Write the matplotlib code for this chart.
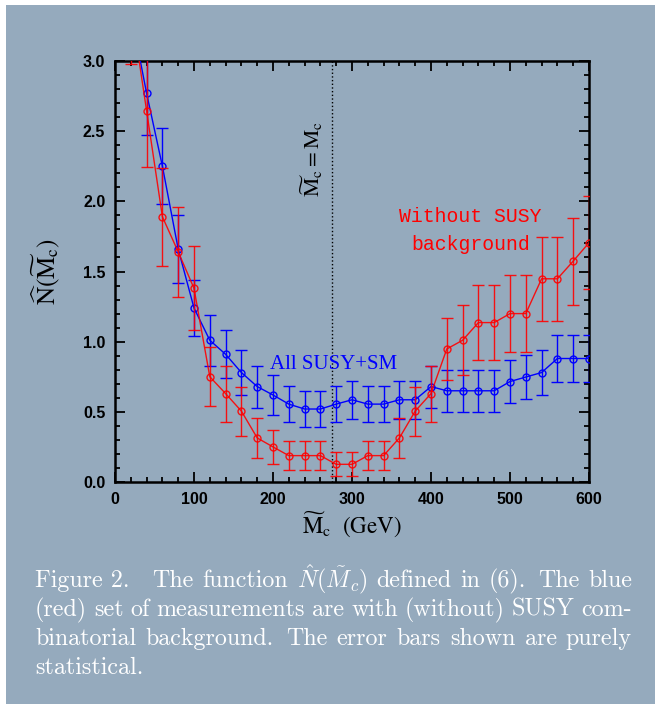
import numpy as np
import matplotlib
matplotlib.use("Agg")
import matplotlib.pyplot as plt
from matplotlib.patches import Rectangle
from matplotlib.ticker import MultipleLocator

BG = "#95aabd"

# M~c values (GeV), one point every 20 GeV
mass = [20, 40, 60, 80, 100, 120, 140, 160, 180, 200,
        220, 240, 260, 280, 300, 320, 340, 360, 380, 400,
        420, 440, 460, 480, 500, 520, 540, 560, 580, 600]

# All SUSY+SM (blue)
blue_n = [3.35, 2.77, 2.25, 1.66, 1.24, 1.01, 0.91, 0.78, 0.68, 0.62,
          0.555, 0.52, 0.52, 0.555, 0.586, 0.555, 0.555, 0.586, 0.586, 0.68,
          0.65, 0.65, 0.65, 0.65, 0.716, 0.748, 0.78, 0.88, 0.88, 0.88]
blue_err = [0.33, 0.30, 0.27, 0.24, 0.20, 0.18, 0.17, 0.16, 0.15, 0.14,
            0.13, 0.13, 0.13, 0.13, 0.137, 0.13, 0.13, 0.137, 0.137, 0.15,
            0.148, 0.148, 0.148, 0.148, 0.155, 0.155, 0.16, 0.17, 0.17, 0.17]

# Without SUSY background (red)
red_n = [3.40, 2.645, 1.89, 1.64, 1.38, 0.75, 0.63, 0.505, 0.314, 0.25,
         0.188, 0.188, 0.188, 0.126, 0.126, 0.188, 0.188, 0.314, 0.505, 0.63,
         0.948, 1.01, 1.136, 1.136, 1.20, 1.20, 1.448, 1.448, 1.574, 1.705]
red_err = [0.42, 0.40, 0.35, 0.32, 0.30, 0.21, 0.20, 0.175, 0.14, 0.12,
           0.105, 0.105, 0.105, 0.085, 0.085, 0.105, 0.105, 0.14, 0.175, 0.20,
           0.22, 0.25, 0.27, 0.27, 0.275, 0.275, 0.30, 0.30, 0.31, 0.33]

true_mass = 275

caption = [
    ["Figure 2.", "The", "function", r"$\hat{N}(\tilde{M}_c)$", "defined", "in",
     "(6).", "The", "blue"],
    ["(red)", "set", "of", "measurements", "are", "with", "(without)", "SUSY", "com-"],
    ["binatorial", "background.", "The", "error", "bars", "shown", "are", "purely"],
    ["statistical."],
]


def justify(fig, renderer, words, x0, x1, y, last=False, **kw):
    fig_w = fig.bbox.width
    texts = [fig.text(x0, y, w, **kw) for w in words]
    widths = [t.get_window_extent(renderer).width for t in texts]
    if last or len(words) == 1:
        weights = [1.0] * (len(words) - 1)
        gap = 7.0
    else:
        weights = []
        for w in words[:-1]:
            if w == "Figure 2.":
                weights.append(2.6)
            elif w.endswith("."):
                weights.append(1.35)
            else:
                weights.append(1.0)
        gap = ((x1 - x0) * fig_w - sum(widths)) / sum(weights)
    x = x0 * fig_w
    for i, (t, w) in enumerate(zip(texts, widths)):
        t.set_x(x / fig_w)
        if i < len(weights):
            x += w + gap * weights[i]


def main():
    plt.rcParams["mathtext.fontset"] = "stix"
    fig = plt.figure(figsize=(6.55, 7.04), dpi=100, facecolor="white")
    fig.patches.append(Rectangle((6 / 655, 0), 1, 1 - 5 / 704, transform=fig.transFigure,
                                 facecolor=BG, edgecolor="none", zorder=-10))

    ax = fig.add_axes([115 / 655, 1 - 482 / 704, 474 / 655, 421 / 704])
    ax.set_facecolor(BG)

    ax.errorbar(mass, blue_n, yerr=blue_err, color="blue", lw=1.0, marker="o",
                ms=5, mfc="none", mec="blue", mew=1.0, capsize=4.3, capthick=1.0,
                elinewidth=1.0, zorder=3)
    ax.errorbar(mass, red_n, yerr=red_err, color="red", lw=1.0, marker="o",
                ms=5, mfc="none", mec="red", mew=1.0, capsize=4.3, capthick=1.0,
                elinewidth=1.0, alpha=0.9, zorder=4)

    ax.axvline(true_mass, color="black", ls=":", lw=1.0, zorder=2)

    ax.set_xlim(0, 600)
    ax.set_ylim(0, 3.0)
    ax.xaxis.set_major_locator(MultipleLocator(100))
    ax.xaxis.set_minor_locator(MultipleLocator(20))
    ax.yaxis.set_major_locator(MultipleLocator(0.5))
    ax.yaxis.set_minor_locator(MultipleLocator(0.1))
    ax.yaxis.set_major_formatter(matplotlib.ticker.FormatStrFormatter("%.1f"))
    ax.tick_params(which="both", direction="in", top=True, right=True, width=1.3,
                   color="black")
    ax.tick_params(which="major", length=7, pad=7)
    ax.tick_params(which="minor", length=3.5)
    for lab in ax.get_xticklabels() + ax.get_yticklabels():
        lab.set_fontfamily("Liberation Sans")
        lab.set_fontweight("bold")
        lab.set_fontsize(11.5)
    for sp in ax.spines.values():
        sp.set_linewidth(1.8)

    ax.set_xlabel(r"$\widetilde{\rm M}_{\rm c}$  (GeV)", fontsize=16.5,
                  fontfamily="STIXGeneral", labelpad=2)
    ax.set_ylabel(r"$\widehat{\rm N}(\widetilde{\rm M}_{\rm c})$", fontsize=18,
                  fontfamily="STIXGeneral", labelpad=15)

    ax.text(249, 2.30, r"$\widetilde{\rm M}_{\rm c}={\rm M}_{\rm c}$", rotation=90,
            ha="center", va="center", fontsize=15.5)
    ax.text(196, 0.84, "All SUSY+SM", color="blue", fontsize=15,
            fontfamily="Liberation Serif", ha="left", va="center")
    ax.text(450, 1.89, "Without SUSY", color="red", fontsize=14.2,
            fontfamily="Liberation Mono", ha="center", va="center")
    ax.text(450, 1.69, "background", color="red", fontsize=14.2,
            fontfamily="Liberation Mono", ha="center", va="center")

    renderer = fig.canvas.get_renderer()
    baselines = [587, 616, 645, 674]
    for i, words in enumerate(caption):
        justify(fig, renderer, words, 35 / 655, 632 / 655, 1 - baselines[i] / 704,
                last=(i == len(caption) - 1), color="white", fontsize=17.3,
                fontfamily="cmr10", math_fontfamily="cm", va="baseline")

    fig.savefig("out.png", dpi=100, facecolor=fig.get_facecolor())


if __name__ == "__main__":
    main()
